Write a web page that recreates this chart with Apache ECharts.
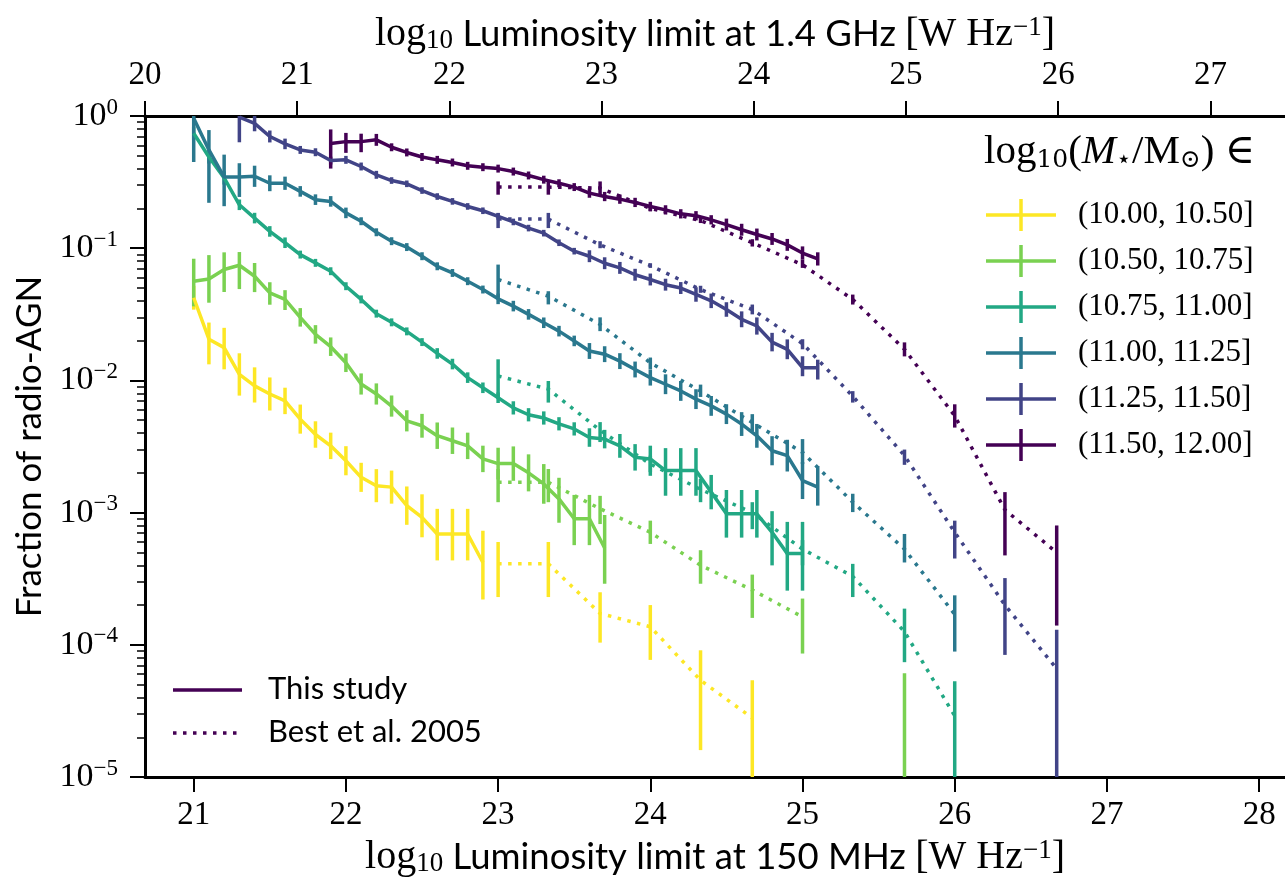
<!DOCTYPE html>
<html><head><meta charset="utf-8">
<script src="https://cdn.jsdelivr.net/npm/echarts@6/dist/echarts.min.js"></script>
<style>html,body{margin:0;padding:0;background:#fff}#c{width:1285px;height:882px}</style>
</head><body><div id="c"></div>
<script>
const N = null;
// x grid of "This study" (log10 L at 150 MHz)
const LUM_150 = [21.0,21.1,21.2,21.3,21.4,21.5,21.6,21.7,21.8,21.9,22.0,22.1,22.2,22.3,22.4,22.5,22.6,22.7,22.8,22.9,23.0,23.1,23.2,23.3,23.4,23.5,23.6,23.7,23.8,23.9,24.0,24.1,24.2,24.3,24.4,24.5,24.6,24.7,24.8,24.9,25.0,25.1];
// x grid of Best et al. 2005
const BEST_LUM = [23.0,23.33,23.67,24.0,24.33,24.67,25.0,25.33,25.67,26.0,26.33,26.67];
const MASS_BINS = ['(10.00, 10.50]','(10.50, 10.75]','(10.75, 11.00]','(11.00, 11.25]','(11.25, 11.50]','(11.50, 12.00]'];
const COLORS = ['#fde725','#7ad151','#22a884','#2a788e','#414487','#440154'];
const X150_TICKS = [21,22,23,24,25,26,27,28];
const X14_TICKS = [20,21,22,23,24,25,26,27];
const Y_TICKS = [1e-5,1e-4,1e-3,1e-2,1e-1,1];

// ---- This study: fractions and error half-widths (dex) ----
const yel_frac = [0.0422,0.0205,0.0177,0.0111,0.0091,0.0079,0.0070,0.0051,0.0039,0.0032,0.00247,0.00185,0.0016,0.00156,0.00113,0.00092,0.00069,0.00069,0.00069,0.00042];
const yel_up = [0.09,0.126,0.15,0.16,0.14,0.125,0.10,0.11,0.10,0.10,0.11,0.11,0.125,0.125,0.145,0.175,0.19,0.19,0.19,0.24];
const yel_dn = [0.09,0.19,0.164,0.16,0.126,0.125,0.10,0.11,0.10,0.10,0.11,0.11,0.125,0.125,0.145,0.15,0.20,0.20,0.20,0.28];

const lgr_frac = [0.0563,0.0586,0.069,0.0743,0.0614,0.046,0.041,0.030,0.0223,0.018,0.0136,0.0094,0.0079,0.0064,0.00495,0.00454,0.00382,0.0035,0.0032,0.00255,0.00235,0.00235,0.0020,0.00165,0.00127,0.0009,0.0009,0.00054];
const lgr_up = [0.17,0.18,0.13,0.10,0.10,0.08,0.07,0.07,0.07,0.07,0.07,0.08,0.08,0.08,0.08,0.09,0.10,0.10,0.10,0.10,0.12,0.13,0.14,0.15,0.16,0.18,0.18,0.25];
const lgr_dn = [0.19,0.18,0.17,0.18,0.12,0.09,0.08,0.07,0.07,0.07,0.07,0.08,0.08,0.08,0.08,0.09,0.10,0.10,0.10,0.10,0.12,0.13,0.14,0.15,0.18,0.20,0.20,0.27];

const grn_frac = [0.74,0.49,0.34,0.213,0.169,0.134,0.11,0.0895,0.0775,0.067,0.0516,0.041,0.032,0.0275,0.0235,0.0195,0.016,0.0133,0.0105,0.0088,0.0074,0.0062,0.0055,0.0052,0.0047,0.0043,0.0037,0.0036,0.0032,0.00262,0.00255,0.00208,0.00208,0.00208,0.00143,0.00098,0.00098,0.00098,0.00071,0.00049,0.00049];
const grn_up = [0.05,0.05,0.05,0.04,0.04,0.04,0.04,0.03,0.03,0.03,0.03,0.03,0.03,0.03,0.03,0.03,0.04,0.04,0.04,0.04,0.04,0.05,0.05,0.05,0.05,0.05,0.07,0.07,0.09,0.10,0.10,0.17,0.17,0.17,0.13,0.18,0.18,0.18,0.16,0.24,0.24];
const grn_dn = [0.05,0.05,0.05,0.04,0.04,0.04,0.04,0.03,0.03,0.03,0.03,0.03,0.03,0.03,0.03,0.03,0.04,0.04,0.04,0.04,0.04,0.05,0.05,0.05,0.05,0.05,0.07,0.07,0.09,0.10,0.10,0.19,0.19,0.19,0.13,0.18,0.18,0.18,0.25,0.28,0.28];

const tea_frac = [0.96,0.554,0.345,0.345,0.35,0.31,0.31,0.269,0.233,0.226,0.185,0.16,0.132,0.113,0.102,0.087,0.073,0.065,0.0563,0.0487,0.0414,0.0365,0.0316,0.0273,0.0236,0.0199,0.0167,0.0158,0.0140,0.0121,0.0105,0.00936,0.00833,0.00722,0.00642,0.00556,0.00468,0.00381,0.00294,0.0027,0.00175,0.00156];
const tea_up = [0.15,0.15,0.17,0.105,0.08,0.06,0.05,0.04,0.04,0.04,0.04,0.03,0.03,0.03,0.03,0.03,0.03,0.03,0.03,0.03,0.04,0.04,0.04,0.04,0.04,0.04,0.06,0.06,0.06,0.06,0.06,0.075,0.075,0.075,0.075,0.075,0.09,0.09,0.11,0.12,0.14,0.16];
const tea_dn = [0.33,0.40,0.22,0.15,0.08,0.06,0.05,0.04,0.04,0.04,0.04,0.03,0.03,0.03,0.03,0.03,0.03,0.03,0.03,0.03,0.04,0.04,0.04,0.04,0.04,0.04,0.06,0.06,0.06,0.06,0.06,0.075,0.075,0.075,0.075,0.075,0.09,0.09,0.11,0.12,0.14,0.14];

const ind_frac = [N,N,N,0.98,0.88,0.70,0.615,0.554,0.532,0.46,0.466,0.415,0.359,0.325,0.307,0.273,0.246,0.226,0.207,0.192,0.174,0.158,0.142,0.13,0.11,0.095,0.087,0.077,0.071,0.063,0.058,0.053,0.050,0.0447,0.040,0.0344,0.029,0.0258,0.0195,0.0172,0.0125,0.0125];
const ind_up = [N,N,N,0.10,0.06,0.045,0.04,0.03,0.03,0.03,0.03,0.03,0.03,0.025,0.025,0.025,0.025,0.025,0.025,0.025,0.025,0.025,0.025,0.025,0.025,0.025,0.045,0.045,0.045,0.045,0.045,0.045,0.045,0.055,0.055,0.055,0.06,0.065,0.07,0.075,0.086,0.06];
const ind_dn = [N,N,N,0.19,0.06,0.045,0.04,0.03,0.03,0.03,0.03,0.03,0.03,0.025,0.025,0.025,0.025,0.025,0.025,0.025,0.025,0.025,0.025,0.025,0.025,0.025,0.045,0.045,0.045,0.045,0.045,0.045,0.045,0.055,0.055,0.055,0.06,0.065,0.07,0.075,0.065,0.09];

const pur_frac = [N,N,N,N,N,N,N,N,N,0.62,0.64,0.64,0.66,0.58,0.53,0.49,0.466,0.445,0.42,0.41,0.40,0.38,0.355,0.33,0.31,0.29,0.261,0.246,0.235,0.222,0.207,0.195,0.182,0.176,0.164,0.151,0.138,0.127,0.1175,0.106,0.092,0.083];
const pur_up = [N,N,N,N,N,N,N,N,N,0.106,0.066,0.06,0.045,0.03,0.03,0.03,0.03,0.03,0.03,0.03,0.03,0.03,0.03,0.03,0.03,0.03,0.035,0.035,0.035,0.035,0.035,0.035,0.035,0.035,0.035,0.045,0.045,0.045,0.045,0.045,0.05,0.05];
const pur_dn = [N,N,N,N,N,N,N,N,N,0.19,0.085,0.08,0.045,0.03,0.03,0.03,0.03,0.03,0.03,0.03,0.03,0.03,0.03,0.03,0.03,0.03,0.035,0.035,0.035,0.035,0.035,0.035,0.035,0.035,0.035,0.045,0.045,0.045,0.045,0.045,0.05,0.05];

// ---- Best et al. 2005: fractions with lower / upper error ends ----
const best_yel = [0.00041,0.00041,0.000173,0.000137,0.000054,0.000028];
const best_yel_lo = [0.00023,0.00023,0.000104,0.000077,0.000016,0.000005];
const best_yel_hi = [0.0006,0.0006,0.00025,0.0002,0.000091,0.000054];

const best_lgr = [0.0017,0.0017,0.00107,0.00071,0.0004,0.00026,0.000163,N,N];
const best_lgr_lo = [0.0012,0.0012,0.00082,0.00058,0.00029,0.00016,0.000086,N,0.000005];
const best_lgr_hi = [0.00214,0.00214,0.00134,0.00087,0.00052,0.00034,0.000224,N,0.000061];

const best_grn = [0.0108,0.0086,0.0042,0.00233,0.0015,0.001,0.00053,0.00033,0.000126,0.000029];
const best_grn_lo = [0.00722,0.0068,0.00342,0.0019,0.0012,0.00075,0.0004,0.00023,0.000074,0.000005];
const best_grn_hi = [0.01445,0.0099,0.00484,0.0027,0.0018,0.0012,0.00062,0.00041,0.000188,0.000053];

const best_tea = [0.058,0.0434,0.0265,0.0136,0.0083,0.0048,0.00286,0.0012,0.00053,0.00017];
const best_tea_lo = [0.0424,0.0376,0.0236,0.0121,0.0075,0.0041,0.00233,0.00101,0.00042,0.000089];
const best_tea_hi = [0.0752,0.0473,0.030,0.0149,0.0093,0.00556,0.0036,0.00139,0.00069,0.000237];

const best_ind = [0.166,0.166,0.106,0.074,0.0487,0.0344,0.019,0.0076,0.0027,0.00071,0.0002,0.000066];
const best_ind_lo = [0.142,0.142,0.10,0.071,0.046,0.0316,0.0172,0.0068,0.0023,0.00045,0.000084,0.000005];
const best_ind_hi = [0.185,0.185,0.113,0.077,0.052,0.0375,0.0205,0.0083,0.003,0.00087,0.00032,0.00013];

const best_pur = [0.29,0.29,0.285,0.20,0.162,0.11,0.075,0.041,0.0172,0.0054,0.00105,0.0005];
const best_pur_lo = [0.254,0.254,0.25,0.19,0.155,0.103,0.071,0.0375,0.0152,0.0044,0.000475,0.00014];
const best_pur_hi = [0.32,0.32,0.32,0.21,0.17,0.117,0.082,0.0446,0.0194,0.0066,0.00143,0.0008];

const SERIF = '"Liberation Serif","DejaVu Serif",serif';
const SANS = 'Lato,"Open Sans",sans-serif';
const LW = 3.5;
const DOT = [3.5, 6.5];

function lineData(xs, ys) { return ys.map((v, i) => [xs[i], v == null ? '-' : v]); }
function studyErr(frac, up, dn) {
  const out = [];
  frac.forEach((v, i) => { if (v == null) return; out.push([LUM_150[i], v / Math.pow(10, dn[i]), v * Math.pow(10, up[i])]); });
  return out;
}
function bestErr(lo, hi) {
  const out = [];
  lo.forEach((l, i) => { if (l == null || hi[i] == null) return; out.push([BEST_LUM[i], l, hi[i]]); });
  return out;
}
function errSeries(name, data, color) {
  return {
    type: 'custom', name: name, silent: true, clip: true, data: data,
    encode: { x: 0, y: [1, 2] },
    renderItem: function (params, api) {
      const x = api.value(0), lo = api.value(1), hi = api.value(2);
      const a = api.coord([x, lo]), b = api.coord([x, hi]);
      return { type: 'line', shape: { x1: a[0], y1: a[1], x2: b[0], y2: b[1] }, style: { stroke: color, lineWidth: LW } };
    }
  };
}

const study = [
  [yel_frac, yel_up, yel_dn], [lgr_frac, lgr_up, lgr_dn], [grn_frac, grn_up, grn_dn],
  [tea_frac, tea_up, tea_dn], [ind_frac, ind_up, ind_dn], [pur_frac, pur_up, pur_dn]
];
const best = [
  [best_yel, best_yel_lo, best_yel_hi], [best_lgr, best_lgr_lo, best_lgr_hi], [best_grn, best_grn_lo, best_grn_hi],
  [best_tea, best_tea_lo, best_tea_hi], [best_ind, best_ind_lo, best_ind_hi], [best_pur, best_pur_lo, best_pur_hi]
];

const series = [];
MASS_BINS.forEach((bin, k) => {
  const c = COLORS[k];
  const [f, up, dn] = study[k];
  series.push({ type: 'line', name: bin, data: lineData(LUM_150, f), symbol: 'none', clip: true,
    color: c, itemStyle: { color: c }, lineStyle: { color: c, width: LW }, silent: true });
  series.push(errSeries(bin + ' err', studyErr(f, up, dn), c));
  const [bv, blo, bhi] = best[k];
  series.push({ type: 'line', name: bin + ' Best', data: lineData(BEST_LUM, bv), symbol: 'none', clip: true,
    color: c, itemStyle: { color: c }, lineStyle: { color: c, width: LW, type: DOT, cap: 'butt' }, silent: true });
  series.push(errSeries(bin + ' Best err', bestErr(blo, bhi), c));
});

const MINOR = [];
for (let e = -5; e < 0; e++) for (let m = 2; m <= 9; m++) MINOR.push(m * Math.pow(10, e));

const titleRich = {
  s: { fontFamily: SERIF, fontSize: 40, color: '#000' },
  sub: { fontFamily: SERIF, fontSize: 27, color: '#000', verticalAlign: 'bottom' },
  t: { fontFamily: SANS, fontSize: 36.5, color: '#000' },
  sup: { fontFamily: SERIF, fontSize: 27, color: '#000', verticalAlign: 'top' }
};
const tickRich = {
  b: { fontFamily: SERIF, fontSize: 34, color: '#000', lineHeight: 40 },
  sup: { fontFamily: SERIF, fontSize: 23, color: '#000', verticalAlign: 'top' }
};

const chart = echarts.init(document.getElementById('c'), null, { renderer: 'canvas' });
chart.setOption({
  animation: false,
  backgroundColor: '#fff',
  grid: { left: 145, right: 0, top: 116, bottom: 103, containLabel: false },
  xAxis: [
    { type: 'value', position: 'bottom', min: 20.68, max: 28.17,
      axisLine: { show: true, onZero: false, lineStyle: { color: '#000', width: 3 } },
      axisTick: { show: true, length: 15, lineStyle: { color: '#000', width: 2 }, customValues: X150_TICKS },
      axisLabel: { customValues: X150_TICKS, margin: 22, fontFamily: SERIF, fontSize: 33, color: '#000' },
      splitLine: { show: false },
      name: '{s|log}{sub|10}{t| Luminosity limit at 150 MHz }{s|[W Hz}{sup|−1}{s|]}',
      nameLocation: 'middle', nameGap: 58, nameTextStyle: { rich: titleRich } },
    { type: 'value', position: 'top', min: 20.0, max: 27.49,
      axisLine: { show: true, onZero: false, lineStyle: { color: '#000', width: 3 } },
      axisTick: { show: true, length: 15, lineStyle: { color: '#000', width: 2 }, customValues: X14_TICKS },
      axisLabel: { customValues: X14_TICKS, margin: 24, fontFamily: SERIF, fontSize: 33, color: '#000' },
      splitLine: { show: false },
      name: '{s|log}{sub|10}{t| Luminosity limit at 1.4 GHz }{s|[W Hz}{sup|−1}{s|]}',
      nameLocation: 'middle', nameGap: 62, nameTextStyle: { rich: titleRich } }
  ],
  yAxis: [
    { type: 'log', logBase: 10, min: 1e-5, max: 1,
      axisLine: { show: true, onZero: false, lineStyle: { color: '#000', width: 3 } },
      axisTick: { show: true, length: 15, lineStyle: { color: '#000', width: 2 }, customValues: Y_TICKS },
      axisLabel: { customValues: Y_TICKS, margin: 27,
        formatter: function (v) { const e = Math.round(Math.log10(v)); return '{b|10}{sup|' + (e < 0 ? '−' : '') + Math.abs(e) + '}'; },
        rich: tickRich },
      splitLine: { show: false },
      name: 'Fraction of radio-AGN', nameLocation: 'middle', nameGap: 98,
      nameTextStyle: { fontFamily: SANS, fontSize: 35, color: '#000' } },
    { type: 'log', logBase: 10, min: 1e-5, max: 1, position: 'left',
      axisLine: { show: false }, axisLabel: { show: false }, splitLine: { show: false },
      axisTick: { show: true, length: 8, lineStyle: { color: '#000', width: 1.5 }, customValues: MINOR } }
  ],
  legend: {
    orient: 'vertical', left: 981, top: 194, itemWidth: 70, itemHeight: 32, itemGap: 14,
    icon: 'path://M0,14.25h70v3.5h-70z M33.25,0h3.5v32h-3.5z',
    data: MASS_BINS, selectedMode: false,
    textStyle: { fontFamily: SERIF, fontSize: 31, color: '#000', padding: [0, 0, 0, 17] }
  },
  graphic: [
    { type: 'text', left: 984, top: 132, style: { text: '{n|log}{sub|10}{n|(}{i|M}{sub|⋆}{n|/M}{sub|⊙}{n|) ∈}',
      rich: { n: { fontFamily: SERIF, fontSize: 41, fill: '#000' }, i: { fontFamily: SERIF, fontStyle: 'italic', fontSize: 41, fill: '#000' },
              sub: { fontFamily: '"DejaVu Serif",serif', fontSize: 25, fill: '#000', verticalAlign: 'bottom' } } } },
    { type: 'line', shape: { x1: 173, y1: 690, x2: 242, y2: 690 }, style: { stroke: COLORS[5], lineWidth: LW } },
    { type: 'line', shape: { x1: 173, y1: 733, x2: 242, y2: 733 }, style: { stroke: COLORS[5], lineWidth: LW, lineDash: DOT } },
    { type: 'text', left: 268, top: 673, style: { text: 'This study', fontFamily: SANS, fontSize: 31, fill: '#000' } },
    { type: 'text', left: 268, top: 716, style: { text: 'Best et al. 2005', fontFamily: SANS, fontSize: 31, fill: '#000' } }
  ],
  series: series
});
</script></body></html>
